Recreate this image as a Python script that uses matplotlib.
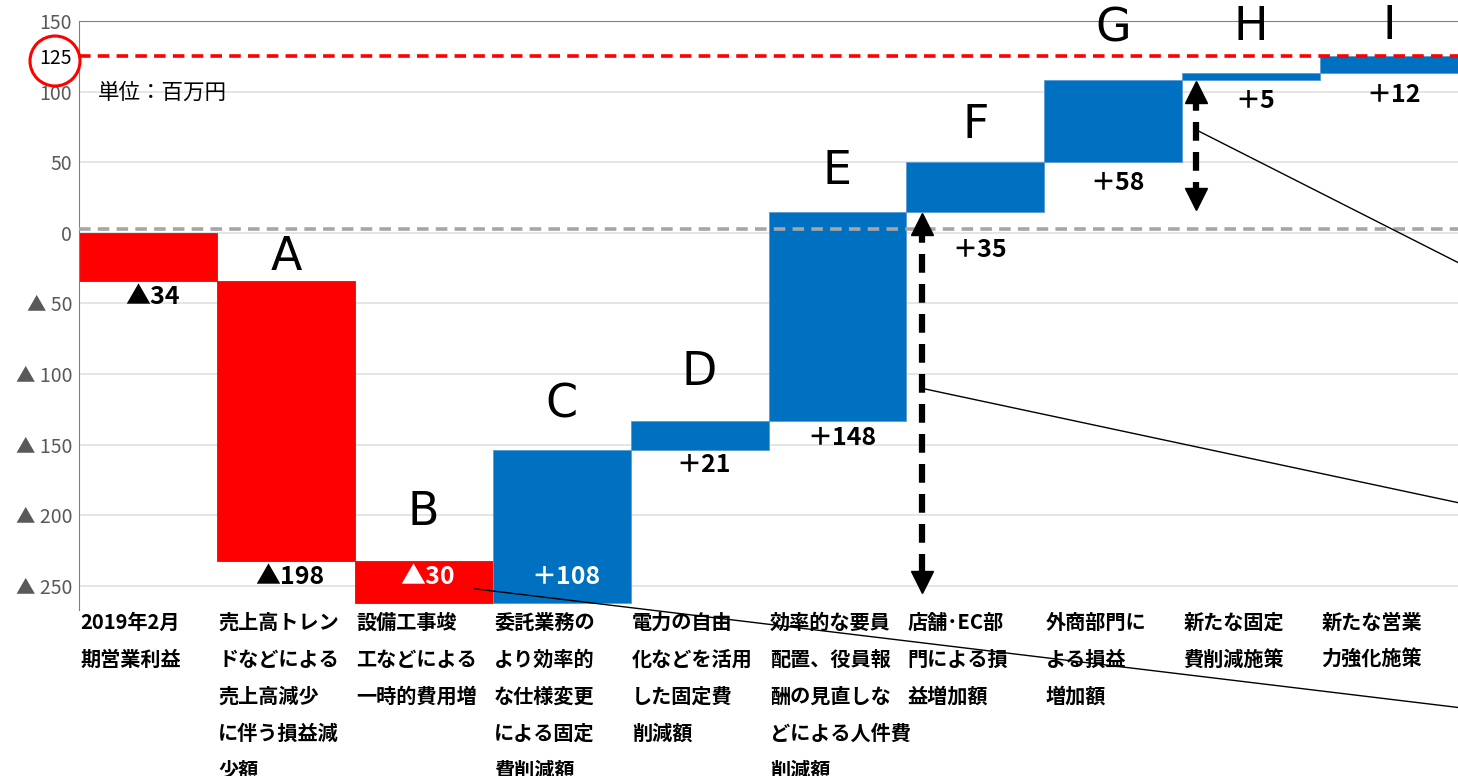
import matplotlib
matplotlib.use("Agg")
import matplotlib.pyplot as plt
from matplotlib.patches import Ellipse
import numpy as np

plt.rcParams['font.family'] = ['Noto Sans CJK JP', 'DejaVu Sans']

# data
categories = ["2019年2月\n期営業利益",
              "売上高トレン\nドなどによる\n売上高減少\nに伴う損益減\n少額",
              "設備工事竣\n工などによる\n一時的費用増",
              "委託業務の\nより効率的\nな仕様変更\nによる固定\n費削減額",
              "電力の自由\n化などを活用\nした固定費\n削減額",
              "効率的な要員\n配置、役員報\n酬の見直しな\nどによる人件費\n削減額",
              "店舗･EC部\n門による損\n益増加額",
              "外商部門に\nよる損益\n増加額",
              "新たな固定\n費削減施策",
              "新たな営業\n力強化施策"]
changes = [-34, -198, -30, 108, 21, 148, 35, 58, 5, 12]
value_labels = ["▲34", "▲198", "▲30", "＋108", "＋21", "＋148", "＋35", "＋58", "＋5", "＋12"]
letters = ["", "A", "B", "C", "D", "E", "F", "G", "H", "I"]
yticks = [150, 125, 100, 50, 0, -50, -100, -150, -200, -250]
ytick_labels = ["150", "125", "100", "50", "0", "▲ 50", "▲ 100", "▲ 150", "▲ 200", "▲ 250"]
target = 125

# label placement tweaks (pixels below bar bottom / above bar top)
label_drop = [16, 16, -26, -26, 15, 17, 38, 21, 21, 22]
letter_rise = [0, 23, 48, 45, 48, 40, 37, 51, 46, 30]

RED = "#FF0000"
BLUE = "#0070C0"

ends = np.cumsum(changes)
starts = ends - np.array(changes)
bottoms = np.minimum(starts, ends)
heights = np.abs(changes)
colors = [RED if c < 0 else BLUE for c in changes]
x = np.arange(len(changes))

fig = plt.figure(figsize=(14.58, 7.76), dpi=100)
ax = fig.add_axes([79/1458, 1-610/776, 1-79/1458, 589/776])

for yv in [100, 50, 0, -50, -100, -150, -200, -250]:
    ax.axhline(yv, color="#e0e0e0", lw=1.2, zorder=0)

ax.bar(x, heights, bottom=bottoms, width=1.0, color=colors, zorder=2,
       edgecolor=[c if c == RED else "#5b9bd5" for c in colors], linewidth=0.6)

ax.axhline(target, color=RED, lw=2.6, ls=(0, (3.2, 2)), zorder=3)
ax.axhline(3, color="#a6a6a6", lw=2.6, ls=(0, (3.2, 2)), zorder=3)

ax.set_xlim(-0.5, 9.5)
ax.set_ylim(-267, 150)
ax.set_yticks(yticks)
ax.set_yticklabels(ytick_labels, fontsize=14, color="#595959")
ax.get_yticklabels()[1].set_color("black")
ax.tick_params(axis='y', length=0, pad=5)
ax.set_xticks([])
for s in ["right", "bottom"]:
    ax.spines[s].set_visible(False)
ax.spines["left"].set_color("#808080")
ax.spines["top"].set_color("#808080")

px = 0.72  # points per pixel
for i in x:
    white = label_drop[i] < 0
    ax.annotate(value_labels[i], xy=(i, bottoms[i]), xytext=(3, -label_drop[i]*px),
                textcoords="offset points", ha="center", va="center",
                fontsize=18, fontweight="bold", color="white" if white else "black", zorder=5)
    if letters[i]:
        ax.annotate(letters[i], xy=(i, bottoms[i] + heights[i]), xytext=(0, letter_rise[i]*px),
                    textcoords="offset points", ha="center", va="center",
                    fontsize=33, family="DejaVu Sans", zorder=5)
    ax.annotate(categories[i], xy=(i - 0.5, 0), xycoords=("data", "axes fraction"),
                xytext=(1, -1.5), textcoords="offset points", ha="left", va="top",
                fontsize=14.5, fontweight="bold", linespacing=1.94, annotation_clip=False)

fig.text(98/1458, 1-93/776, "単位：百万円", fontsize=15.5, va="center")

# dashed double arrows
for xa, ytop, ybot in [(5.61, 6, -247), (7.6, 100, 24)]:
    ax.plot([xa, xa], [ytop, ybot], color="black", lw=4.5, ls=(0, (3, 1.8)), zorder=4)
    ax.plot(xa, ytop, marker="^", color="black", ms=16, zorder=4)
    ax.plot(xa, ybot, marker="v", color="black", ms=16, zorder=4)

# thin leader lines running off to the right
for (x0, y0), (x1, y1) in [((7.6, 73), (9.5, -21)), ((5.61, -110), (9.5, -191)), ((2.37, -252), (9.5, -336))]:
    ax.plot([x0, x1], [y0, y1], color="black", lw=1, zorder=4, clip_on=False)

# red circle around the 125 tick label
fig.add_artist(Ellipse((55/1458, 1-61/776), 50/1458, 50/776, transform=fig.transFigure,
                       fill=False, edgecolor=RED, lw=2.2))

fig.savefig("out.png", dpi=100)
